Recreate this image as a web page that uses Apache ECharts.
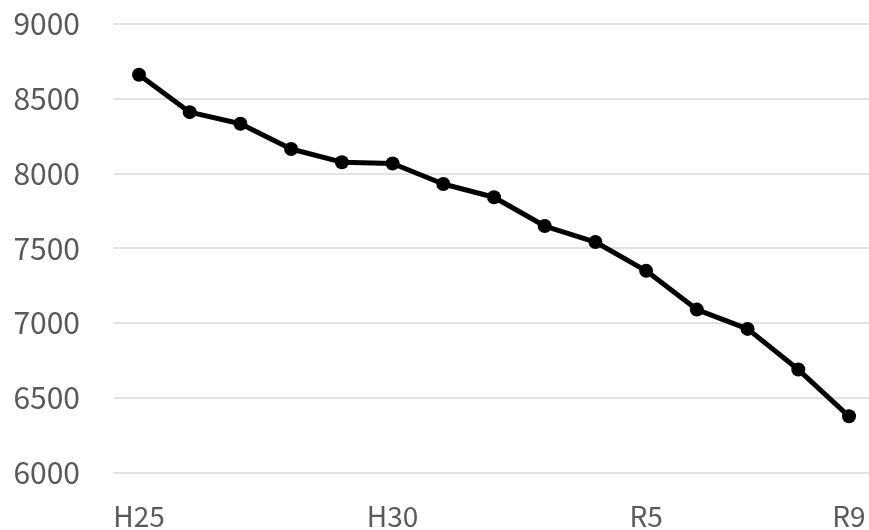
<!DOCTYPE html>
<html>
<head>
<meta charset="utf-8">
<script src="https://cdn.jsdelivr.net/npm/echarts@6/dist/echarts.min.js"></script>
<style>
html,body{margin:0;padding:0;background:#fff;}
#chart{width:869px;height:530px;}
</style>
</head>
<body>
<div id="chart"></div>
<script>
var categories = ["H25","H26","H27","H28","H29","H30","R1","R2","R3","R4","R5","R6","R7","R8","R9"];
var values = [8656, 8404, 8326, 8156, 8067, 8058, 7920, 7831, 7637, 7529, 7335, 7074, 6944, 6670, 6355];
var shownLabels = ["H25","H30","R5","R9"];
var yMin = 6000, yMax = 9000, yStep = 500;

var chart = echarts.init(document.getElementById('chart'));
chart.setOption({
  animation: false,
  grid: [
    { left: 114, top: 23.7, right: 0, height: 449 },
    { left: 139, top: 23.7, width: 710, height: 449 }
  ],
  xAxis: [
    { type: 'category', gridIndex: 0, data: categories, show: false },
    {
      type: 'category',
      gridIndex: 1,
      data: categories,
      boundaryGap: false,
      axisLine: { show: false },
      axisTick: { show: false },
      splitLine: { show: false },
      axisLabel: {
        interval: 0,
        formatter: function (v) { return shownLabels.indexOf(v) >= 0 ? v : ''; },
        color: '#595959',
        fontSize: 28,
        fontFamily: 'Noto Sans CJK JP',
        margin: 33
      }
    }
  ],
  yAxis: [
    {
      type: 'value',
      gridIndex: 0,
      min: yMin, max: yMax, interval: yStep,
      axisLine: { show: false },
      axisTick: { show: false },
      splitLine: { lineStyle: { color: '#d9d9d9', width: 1.5 } },
      axisLabel: {
        formatter: function (v) { return String(v); },
        color: '#595959',
        fontSize: 30,
        fontFamily: 'Noto Sans CJK JP',
        margin: 34
      }
    },
    {
      type: 'value',
      gridIndex: 1,
      min: yMin, max: yMax, interval: yStep,
      show: false
    }
  ],
  series: [{
    type: 'line',
    xAxisIndex: 1,
    yAxisIndex: 1,
    data: values,
    symbol: 'circle',
    symbolSize: 14,
    lineStyle: { color: '#000', width: 5 },
    itemStyle: { color: '#000' }
  }]
});
</script>
</body>
</html>
